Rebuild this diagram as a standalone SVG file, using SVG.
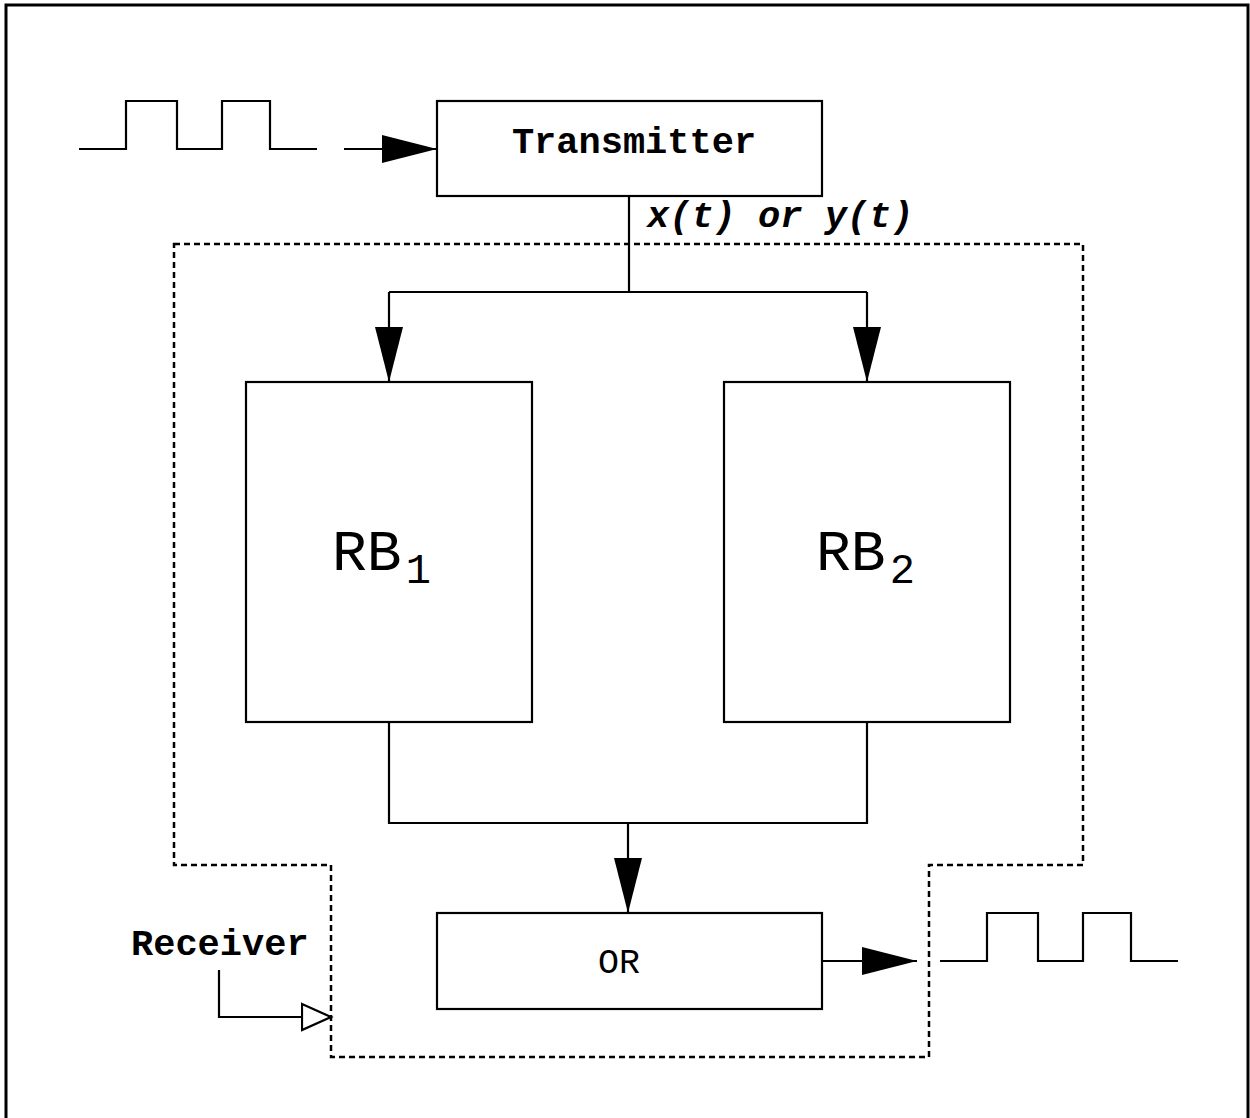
<svg xmlns="http://www.w3.org/2000/svg" width="1250" height="1118" viewBox="0 0 1250 1118">
<defs>
<style>
.ln{fill:none;stroke:#000;stroke-width:2.2}
.box{fill:#fff;stroke:#000;stroke-width:2.2}
.dash{fill:none;stroke:#000;stroke-width:2.5;stroke-dasharray:6 4}
.mono{font-family:"Liberation Mono","Courier New",monospace;fill:#000}
.b{font-weight:bold}
</style>
<marker id="ah" markerUnits="userSpaceOnUse" markerWidth="56" markerHeight="30" refX="55" refY="14" orient="auto" viewBox="0 0 56 28">
<path d="M0,0 L55,14 L0,28 z" fill="#000"/>
</marker>
<marker id="oh" markerUnits="userSpaceOnUse" markerWidth="34" markerHeight="32" refX="30" refY="15" orient="auto" viewBox="0 0 34 30">
<path d="M1,2 L30,15 L1,28 z" fill="#fff" stroke="#000" stroke-width="2.2"/>
</marker>
</defs>
<rect x="0" y="0" width="1250" height="1118" fill="#fff"/>
<rect x="6" y="5" width="1242" height="1130" fill="none" stroke="#000" stroke-width="3"/>

<g id="receiver-boundary">
<path class="dash" d="M174,244 L1083,244 L1083,865 L929,865 L929,1057 L331,1057 L331,865 L174,865 Z"/>
</g>

<g id="input-wave">
<path class="ln" d="M79,149 L126,149 L126,101 L177,101 L177,149 L222,149 L222,101 L270,101 L270,149 L317,149"/>
</g>
<g id="output-wave">
<path class="ln" d="M940,961 L987,961 L987,913 L1038,913 L1038,961 L1083,961 L1083,913 L1131,913 L1131,961 L1178,961"/>
</g>

<g id="transmitter">
<rect class="box" x="437" y="101" width="385" height="95"/>
<text class="mono b" x="634" y="153" font-size="37" text-anchor="middle">Transmitter</text>
</g>

<g id="rb1">
<rect class="box" x="246" y="382" width="286" height="340"/>
<text class="mono" x="332" y="570" font-size="58">RB<tspan font-size="42" dx="4" dy="13">1</tspan></text>
</g>

<g id="rb2">
<rect class="box" x="724" y="382" width="286" height="340"/>
<text class="mono" x="816" y="570" font-size="58">RB<tspan font-size="42" dx="4" dy="13">2</tspan></text>
</g>

<g id="or">
<rect class="box" x="437" y="913" width="385" height="96"/>
<text class="mono" x="619" y="973" font-size="35" text-anchor="middle">OR</text>
</g>

<g id="labels">
<text class="mono b" x="647" y="227" font-size="37" font-style="italic">x(t) or y(t)</text>
<text class="mono b" x="131" y="955" font-size="37">Receiver</text>
</g>

<g id="connectors">
<path class="ln" d="M344,149 L437,149" marker-end="url(#ah)"/>
<path class="ln" d="M629,196 L629,292"/>
<path class="ln" d="M389,292 L867,292"/>
<path class="ln" d="M389,292 L389,382" marker-end="url(#ah)"/>
<path class="ln" d="M867,292 L867,382" marker-end="url(#ah)"/>
<path class="ln" d="M389,722 L389,823 L867,823 L867,722"/>
<path class="ln" d="M628,823 L628,913" marker-end="url(#ah)"/>
<path class="ln" d="M822,961 L917,961" marker-end="url(#ah)"/>
<path class="ln" d="M219,970 L219,1017 L331,1017" marker-end="url(#oh)"/>
</g>
</svg>
